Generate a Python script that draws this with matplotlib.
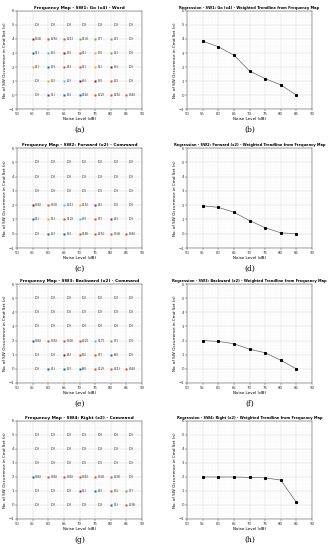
import numpy as np
import matplotlib
matplotlib.use("Agg")
import matplotlib.pyplot as plt
from matplotlib.ticker import MultipleLocator

noise = [55, 60, 65, 70, 75, 80, 85]
occ = [5, 4, 3, 2, 1, 0]

# frequency map counts, rows = occurrence 5..0, cols = noise level
sw1_counts = [[0, 0, 0, 0, 0, 0, 0],
              [34, 25, 21, 13, 7, 2, 0],
              [1, 6, 3, 1, 3, 2, 0],
              [1, 2, 4, 1, 1, 5, 0],
              [0, 2, 2, 5, 3, 2, 0],
              [0, 1, 6, 16, 22, 25, 36]]
sw2_counts = [[0, 0, 0, 0, 0, 0, 0],
              [0, 0, 0, 0, 0, 0, 0],
              [0, 0, 0, 0, 0, 0, 0],
              [35, 33, 21, 15, 4, 0, 0],
              [1, 1, 12, 3, 7, 2, 0],
              [0, 2, 3, 18, 25, 34, 36]]
sw3_counts = [[0, 0, 0, 0, 0, 0, 0],
              [0, 0, 0, 0, 0, 0, 0],
              [0, 0, 0, 0, 0, 0, 0],
              [36, 35, 30, 22, 17, 7, 0],
              [0, 0, 4, 6, 7, 8, 0],
              [0, 1, 2, 8, 12, 21, 36]]
sw4_counts = [[0, 0, 0, 0, 0, 0, 0],
              [0, 0, 0, 0, 0, 0, 0],
              [0, 0, 0, 0, 0, 0, 0],
              [36, 36, 36, 35, 34, 29, 0],
              [0, 0, 0, 1, 2, 6, 7],
              [0, 0, 0, 0, 0, 1, 29]]

# marker colour per cell (b,o,y,p,g,c,r) as seen on the maps
sw1_cols = ["-------", "rooggg-", "bcroyg-", "ybooyr-", "-ycrro-", "-pbbooo"]
sw2_cols = ["-------", "-------", "-------", "rocyp--", "byocop-", "-bboooo"]
sw3_cols = ["-------", "-------", "-------", "booocg-", "--roob-", "-bbbooo"]
sw4_cols = ["-------", "-------", "-------", "booooog", "---pbog", "-----bo"]

# weighted trendlines
sw1_trend = [3.85, 3.45, 2.85, 1.72, 1.17, 0.72, 0.0]
sw2_trend = [1.95, 1.85, 1.50, 0.92, 0.42, 0.06, 0.0]
sw3_trend = [2.0, 1.94, 1.78, 1.39, 1.14, 0.61, 0.0]
sw4_trend = [2.0, 2.0, 2.0, 1.97, 1.94, 1.78, 0.19]

names = ["SW1: Go (x4) - Word", "SW2: Forward (x2) - Command",
         "SW3: Backward (x2) - Command", "SW4: Right (x2) - Command"]
reg_names = ["SW1: Go (x4)", "SW2: Forward (x2)", "SW3: Backward (x2)", "SW4: Right (x2)"]
letters = ["(a)", "(b)", "(c)", "(d)", "(e)", "(f)", "(g)", "(h)"]

mcol = {"b": (0, 0.447, 0.741), "o": (0.85, 0.325, 0.098), "y": (0.929, 0.694, 0.125),
        "p": (0.494, 0.184, 0.556), "g": (0.466, 0.674, 0.188), "c": (0.301, 0.745, 0.933),
        "r": (0.635, 0.078, 0.184)}

W, H = 332, 550
fig = plt.figure(figsize=(W / 100, H / 100), dpi=100)

tops = [11, 148, 284, 421]
bots = [109, 248, 383, 519]
lefts = [17, 187]
aw = 125


def style(ax, title, tsize):
    ax.set_xlim(50, 90)
    ax.set_ylim(-1, 6)
    ax.xaxis.set_major_locator(MultipleLocator(5))
    ax.yaxis.set_major_locator(MultipleLocator(1))
    ax.xaxis.set_minor_locator(MultipleLocator(1))
    ax.yaxis.set_minor_locator(MultipleLocator(0.2))
    ax.grid(True, which="major", color="#d8d8d8", lw=0.35)
    ax.grid(True, which="minor", color="#eeeeee", lw=0.25, ls=":")
    ax.tick_params(which="both", labelsize=2.8, length=1.2, width=0.3, pad=1, colors="#333333")
    ax.tick_params(which="minor", length=0)
    for s in ax.spines.values():
        s.set_linewidth(0.35)
        s.set_color("#444444")
    ax.set_title(title, fontsize=tsize, fontweight="bold", pad=1.5)
    ax.set_xlabel("Noise Level (dB)", fontsize=3.0, labelpad=0.8)
    ax.set_ylabel("No. of SW Occurrence in Cmd Set (n)", fontsize=3.0, labelpad=0.8)


counts_all = [sw1_counts, sw2_counts, sw3_counts, sw4_counts]
cols_all = [sw1_cols, sw2_cols, sw3_cols, sw4_cols]
trends = [sw1_trend, sw2_trend, sw3_trend, sw4_trend]

for i in range(4):
    bottom = 1 - bots[i] / H
    h = (bots[i] - tops[i]) / H
    # frequency map
    ax = fig.add_axes([lefts[0] / W, bottom, aw / W, h])
    style(ax, "Frequency Map - " + names[i], 3.1)
    for r, o in enumerate(occ):
        for c, nl in enumerate(noise):
            n = counts_all[i][r][c]
            code = cols_all[i][r][c]
            if n > 0 and code in mcol:
                ax.plot(nl, o, "s", ms=1.5, color=mcol[code], mec="none")
            ax.text(nl + 0.8, o, "(%d)" % n, fontsize=2.6, va="center", ha="left", color="#333333")
    fig.text((lefts[0] + aw / 2) / W, 1 - (bots[i] + 21) / H, letters[2 * i],
             fontsize=5.5, family="DejaVu Serif", ha="center", va="center")

    # regression
    ax2 = fig.add_axes([lefts[1] / W, bottom, aw / W, h])
    style(ax2, "Regression - " + reg_names[i] + " - Weighted Trendline from Frequency Map", 2.6)
    ax2.plot(noise, trends[i], "-s", color="#555555", lw=0.45, ms=1.2, mfc="black", mec="black")
    fig.text((lefts[1] + aw / 2) / W, 1 - (bots[i] + 21) / H, letters[2 * i + 1],
             fontsize=5.5, family="DejaVu Serif", ha="center", va="center")

fig.savefig("out.png", dpi=100)
